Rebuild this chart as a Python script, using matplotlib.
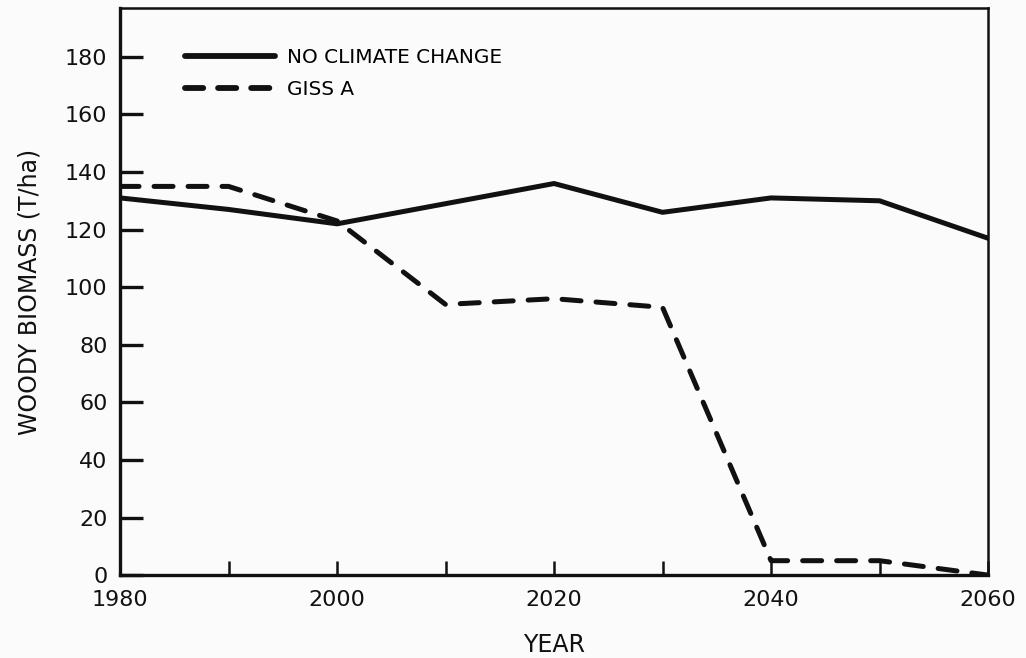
import matplotlib.pyplot as plt

# woody biomass projections, tonnes per hectare
years = [1980, 1990, 2000, 2010, 2020, 2030, 2040, 2050, 2060]
no_climate_change = [131, 127, 122, 129, 136, 126, 131, 130, 117]
giss_a = [135, 135, 123, 94, 96, 93, 5, 5, 0]

y_ticks = [0, 20, 40, 60, 80, 100, 120, 140, 160, 180]
x_ticks = [1980, 1990, 2000, 2010, 2020, 2030, 2040, 2050, 2060]
x_labels = ["1980", "", "2000", "", "2020", "", "2040", "", "2060"]

plt.rcParams["font.family"] = "DejaVu Sans"

fig = plt.figure(figsize=(10.26, 6.58), dpi=100, facecolor="#fbfbfb")
ax = fig.add_axes([0.117, 0.126, 0.846, 0.862])
ax.set_facecolor("#fbfbfb")

ax.plot(years, no_climate_change, color="#111111", lw=3.6,
        solid_joinstyle="round", solid_capstyle="round",
        label="NO CLIMATE CHANGE")
ax.plot(years, giss_a, color="#111111", lw=3.6, dashes=(3.8, 3.0),
        dash_capstyle="round", dash_joinstyle="round", label="GISS A")

ax.set_xlim(1980, 2060)
ax.set_ylim(0, 197)
ax.set_xticks(x_ticks)
ax.set_xticklabels(x_labels)
ax.set_yticks(y_ticks)

for side in ["left", "bottom"]:
    ax.spines[side].set_linewidth(2.4)
for side in ["top", "right"]:
    ax.spines[side].set_linewidth(1.8)
for sp in ax.spines.values():
    sp.set_color("#111111")

ax.tick_params(axis="y", direction="in", length=16.5, width=2.4,
               labelsize=16, pad=9, colors="#111111")
ax.tick_params(axis="x", direction="in", length=10, width=1.8,
               labelsize=16, pad=11, colors="#111111")

ax.set_xlabel("YEAR", fontsize=17, labelpad=16, color="#111111")
ax.set_ylabel("WOODY BIOMASS (T/ha)", fontsize=17, labelpad=17,
              color="#111111")

leg = ax.legend(loc="upper left", bbox_to_anchor=(0.0749, 0.929),
                frameon=False, fontsize=14.4, handlelength=4.5,
                handletextpad=0.6, labelspacing=0.65, borderpad=0,
                borderaxespad=0)
solid_handle, dashed_handle = leg.get_lines()
solid_handle.set_linewidth(4.2)
dashed_handle.set_linewidth(4.2)
# three even dashes across the legend key
dashed_handle.set_dashes((3.12, 2.55))

fig.savefig("out.png", dpi=100, facecolor=fig.get_facecolor())
